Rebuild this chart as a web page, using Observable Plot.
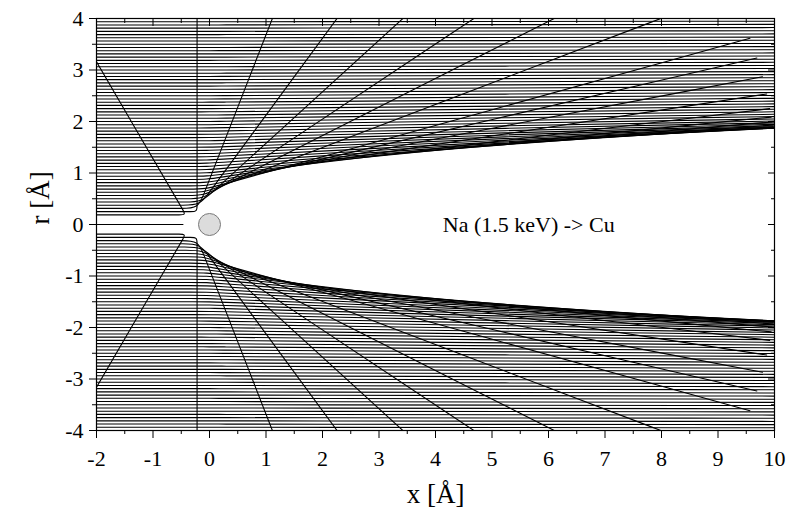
<!DOCTYPE html>
<html>
<head>
<meta charset="utf-8">
<script src="https://cdn.jsdelivr.net/npm/d3@7"></script>
<script src="https://cdn.jsdelivr.net/npm/@observablehq/plot@0.6"></script>
<style>
  body { margin: 0; background: #fff; }
  svg text { font-family: "Liberation Serif", "Times New Roman", serif; }
</style>
</head>
<body>
<div id="chart"></div>
<script>
// Impact parameters (Å) of the incoming Na ions in the upper half; the lower half mirrors them.
const impact = [
  0, 0.1875, 0.25, 0.3125, 0.375, 0.4375, 0.5, 0.5625, 0.625, 0.6875,
  0.75, 0.8125, 0.875, 0.9375, 1.0, 1.0625, 1.125, 1.1875, 1.25, 1.3125,
  1.375, 1.4375, 1.5, 1.5625, 1.625, 1.6875, 1.75, 1.8125, 1.875, 1.9375,
  2.0, 2.0625, 2.125, 2.1875, 2.25, 2.3125, 2.375, 2.4375, 2.5, 2.5625,
  2.625, 2.6875, 2.75, 2.8125, 2.875, 2.9375, 3.0, 3.0625, 3.125, 3.1875,
  3.25, 3.3125, 3.375, 3.4375, 3.5, 3.5625, 3.625, 3.6875, 3.75, 3.8125,
  3.875, 3.9375
];
// Scattering angle (degrees) of each trajectory after passing the Cu atom.
const deflection = [
  180, 118, 90, 70.4, 56.2, 45.0, 36.1, 29.0, 22.7, 16.9,
  14.3, 11.8, 9.5, 7.5, 6.2, 5.3, 4.6, 4.06, 3.59, 3.18,
  2.83, 2.5, 2.2, 1.93, 1.68, 1.47, 1.28, 1.13, 1.0, 0.9,
  0.8, 0.72, 0.645, 0.58, 0.525, 0.475, 0.43, 0.39, 0.355, 0.32,
  0.29, 0.265, 0.24, 0.22, 0.2, 0.18, 0.165, 0.15, 0.14, 0.13,
  0.12, 0.11, 0.1, 0.095, 0.09, 0.085, 0.08, 0.075, 0.07, 0.065,
  0.06, 0.055
];
// x (Å) where the incoming and outgoing asymptotes of each trajectory meet.
const turnX = [
  -0.47, -0.42, -0.22, -0.2, -0.17, -0.14, -0.12, -0.1, -0.08, -0.07,
  -0.05, -0.05, -0.05, -0.05, -0.05, -0.05, -0.05, -0.05, -0.05, -0.05,
  -0.05, -0.05, 0, 0, 0, 0, 0, 0, 0, 0,
  0, 0, 0, 0, 0, 0, 0, 0, 0, 0,
  0, 0, 0, 0, 0, 0, 0, 0, 0, 0,
  0, 0, 0, 0, 0, 0, 0, 0, 0, 0,
  0, 0
];
// Target atom position (Å).
const atomX = [0];
const atomR = [0];
// Beam annotation.
const beamLabel = ["Na (1.5 keV) -> Cu"];
const beamLabelX = [5.65];
const beamLabelR = [0];
// Axis ticks.
const xTicks = [-2, -1, 0, 1, 2, 3, 4, 5, 6, 7, 8, 9, 10];
const xMinor = [-1.5, -0.5, 0.5, 1.5, 2.5, 3.5, 4.5, 5.5, 6.5, 7.5, 8.5, 9.5];
const rTicks = [-4, -3, -2, -1, 0, 1, 2, 3, 4];
const rMinor = [-3.5, -2.5, -1.5, -0.5, 0.5, 1.5, 2.5, 3.5];

// Each ion starts at x = -2 Å and travels the same distance.
const pathLength = 12;

// Asymptotic trajectory polylines; the "basis" curve rounds the turning point.
const paths = [];
impact.forEach((b, i) => {
  const sides = b === 0 ? [1] : [1, -1];
  for (const sgn of sides) {
    const id = i + ":" + sgn;
    const deg = deflection[i];
    const a = deg * Math.PI / 180;
    const ux = Math.cos(a), uy = Math.sin(a) * sgn;
    const xt = turnX[i], y0 = b * sgn;
    let pts;
    if (deg >= 180) {
      pts = [[-2, y0], [xt, y0]];
    } else {
      const s = deg > 80 ? 0.12 : 0.3;
      const rest = pathLength - (xt + 2);
      pts = [
        [-2, y0], [xt - 2 * s, y0], [xt - s, y0], [xt, y0],
        [xt + s * ux, y0 + s * uy], [xt + 2 * s * ux, y0 + 2 * s * uy],
        [xt + rest * ux, y0 + rest * uy]
      ];
    }
    for (const [x, y] of pts) paths.push({id, x, y});
  }
});

const fmt = d => String(d);
const blank = () => "";
const serif = "Liberation Serif";

const chart = Plot.plot({
  width: 790,
  height: 516,
  marginLeft: 96,
  marginRight: 16,
  marginTop: 18,
  marginBottom: 86,
  x: {domain: [-2, 10], axis: null},
  y: {domain: [-4, 4], axis: null},
  style: {fontFamily: serif, background: "white", color: "black", overflow: "visible"},
  marks: [
    Plot.line(paths, {x: "x", y: "y", z: "id", curve: "basis", stroke: "#000", strokeWidth: 1.1, clip: true}),
    Plot.dot(atomX.map((x, i) => ({x, y: atomR[i]})), {x: "x", y: "y", r: 11, fill: "#dcdcdc", stroke: "#7a7a7a", strokeWidth: 1}),
    Plot.text(beamLabel.map((t, i) => ({t, x: beamLabelX[i], y: beamLabelR[i]})), {x: "x", y: "y", text: "t", fontSize: 22, fontFamily: serif, textAnchor: "middle", fill: "#000"}),
    Plot.frame({stroke: "#000", strokeWidth: 1.2}),
    // bottom / left axes: outward ticks with labels
    Plot.axisX(xTicks, {anchor: "bottom", tickSize: 8, tickPadding: 12, fontSize: 22, fontFamily: serif, tickFormat: fmt, label: null}),
    Plot.axisX(xMinor, {anchor: "bottom", tickSize: 4, tickFormat: blank, label: null}),
    Plot.axisY(rTicks, {anchor: "left", tickSize: 7, tickPadding: 6, fontSize: 22, fontFamily: serif, tickFormat: fmt, label: null}),
    Plot.axisY(rMinor, {anchor: "left", tickSize: 4, tickFormat: blank, label: null}),
    // top / right axes: inward ticks only
    Plot.axisX(xTicks, {anchor: "top", tickSize: -7, tickFormat: blank, label: null}),
    Plot.axisX(xMinor, {anchor: "top", tickSize: -4, tickFormat: blank, label: null}),
    Plot.axisY(rTicks, {anchor: "right", tickSize: -7, tickFormat: blank, label: null}),
    Plot.axisY(rMinor, {anchor: "right", tickSize: -4, tickFormat: blank, label: null}),
    // axis titles
    Plot.text(["x [Å]"], {frameAnchor: "bottom", dy: 64, fontSize: 27, fontFamily: serif, lineAnchor: "middle", fill: "#000"}),
    Plot.text(["r [Å]"], {frameAnchor: "left", dx: -56, rotate: -90, fontSize: 27, fontFamily: serif, lineAnchor: "middle", fill: "#000"})
  ]
});

document.getElementById("chart").appendChild(chart);
</script>
</body>
</html>
